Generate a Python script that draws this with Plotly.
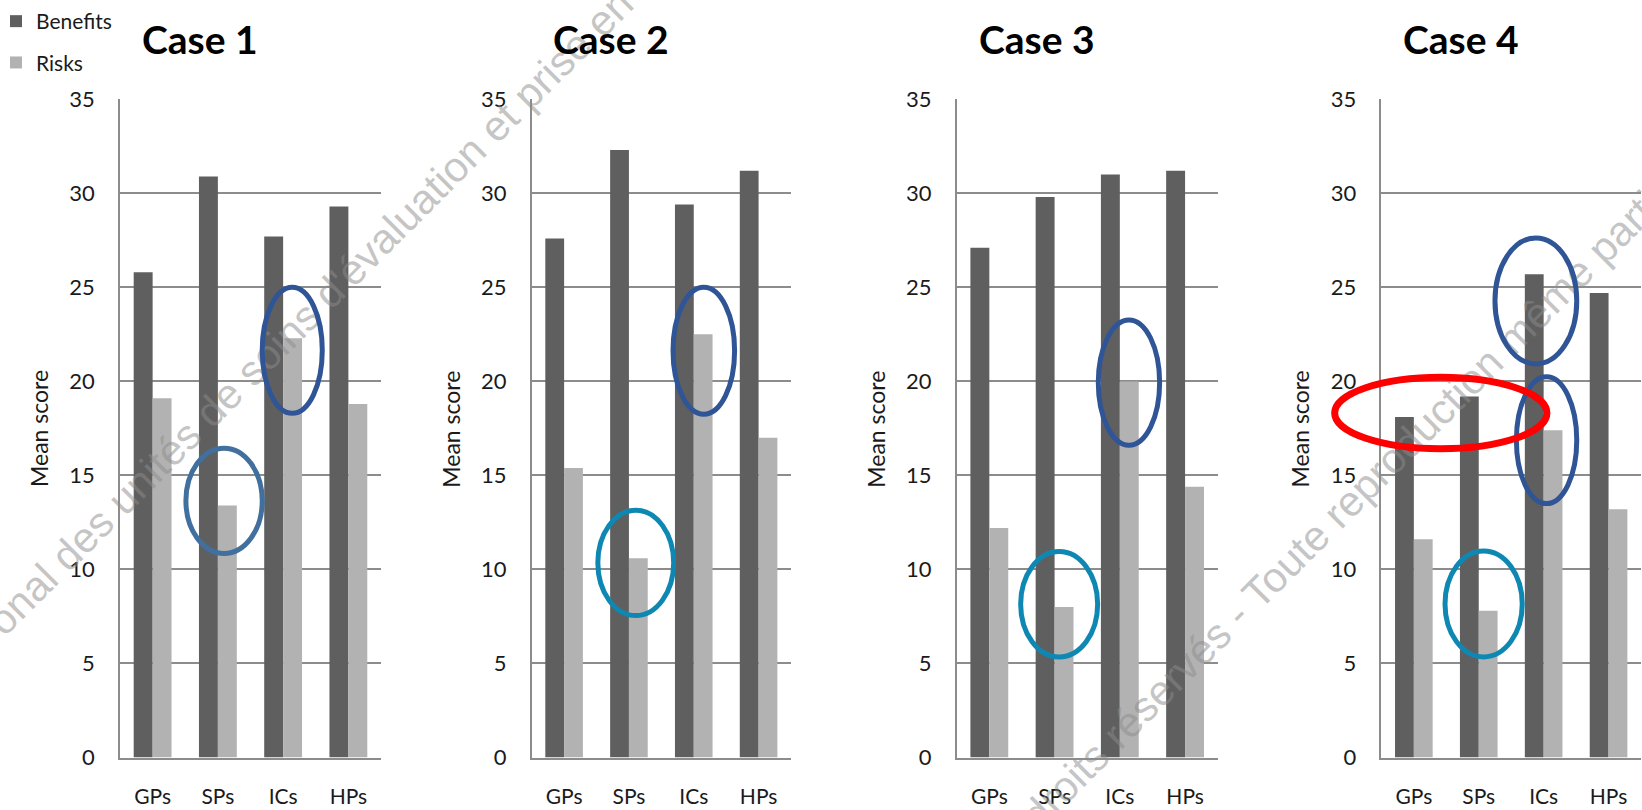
import plotly.graph_objects as go
from plotly.subplots import make_subplots

# ---- data -------------------------------------------------------------
categories = ["GPs", "SPs", "ICs", "HPs"]
case_titles = ["Case 1", "Case 2", "Case 3", "Case 4"]

benefits_case1 = [25.8, 30.9, 27.7, 29.3]
benefits_case2 = [27.6, 32.3, 29.4, 31.2]
benefits_case3 = [27.1, 29.8, 31.0, 31.2]
benefits_case4 = [18.1, 19.2, 25.7, 24.7]

risks_case1 = [19.1, 13.4, 22.3, 18.8]
risks_case2 = [15.4, 10.6, 22.5, 17.0]
risks_case3 = [12.2, 8.0, 20.0, 14.4]
risks_case4 = [11.6, 7.8, 17.4, 13.2]

benefits = [benefits_case1, benefits_case2, benefits_case3, benefits_case4]
risks = [risks_case1, risks_case2, risks_case3, risks_case4]

y_ticks = [0, 5, 10, 15, 20, 25, 30, 35]

# ---- page geometry ----------------------------------------------------
W, H = 1642, 810
PLOT_TOP, PLOT_BOTTOM = 99.3, 757.5
PANEL_X = [(120, 381), (531.7, 791), (956.7, 1217.7), (1381.4, 1641)]
Y_MAX = 35


def px(x):
    return x / W


def py(y):
    return 1 - y / H


# ---- styles -----------------------------------------------------------
BENEFIT_COLOR = "#5f5f5f"
RISK_COLOR = "#b2b2b2"
GRID_COLOR = "#8c8c8c"
TEXT_COLOR = "#1a1a1a"
FONT = "Lato"

fig = make_subplots(rows=1, cols=4)

for i in range(4):
    col = i + 1
    show = i == 0
    fig.add_trace(go.Bar(
        x=categories, y=benefits[i], name="Benefits",
        marker=dict(color=BENEFIT_COLOR, line=dict(width=0)),
        legendgroup="benefits", showlegend=show,
    ), row=1, col=col)
    fig.add_trace(go.Bar(
        x=categories, y=risks[i], name="Risks",
        marker=dict(color=RISK_COLOR, line=dict(width=0)),
        legendgroup="risks", showlegend=show,
    ), row=1, col=col)

axis_font = dict(family=FONT, size=22, color=TEXT_COLOR)
xtick_font = dict(family=FONT, size=21, color=TEXT_COLOR)
for i, (x0, x1) in enumerate(PANEL_X):
    sfx = "" if i == 0 else str(i + 1)
    fig.layout["xaxis" + sfx].update(
        domain=[px(x0), px(x1)], range=[-0.5, 3.5], type="category",
        showline=True, linecolor=GRID_COLOR, linewidth=1.5,
        showgrid=False, ticks="", tickfont=xtick_font, ticklabelstandoff=20,
        automargin=False, fixedrange=True,
    )
    fig.layout["yaxis" + sfx].update(
        domain=[py(PLOT_BOTTOM), py(PLOT_TOP)], range=[0, Y_MAX],
        tickvals=y_ticks, showgrid=True, gridcolor=GRID_COLOR, gridwidth=1.5,
        showline=True, linecolor=GRID_COLOR, linewidth=1.5, zeroline=False,
        ticks="", tickfont=axis_font, ticklabelstandoff=19,
        automargin=False, fixedrange=True,
    )

annotations = []
for i, (x0, x1) in enumerate(PANEL_X):
    # panel title, centred over the tick labels + plot block
    annotations.append(dict(
        text="<b>%s</b>" % case_titles[i], x=px((x0 + x1) / 2 - 50.5), y=py(39),
        xref="paper", yref="paper", showarrow=False,
        xanchor="center", yanchor="middle",
        font=dict(family=FONT, size=39, color="#000000"),
    ))
    # y-axis caption
    annotations.append(dict(
        text="Mean score", x=px(x0 - 81), y=py(429),
        xref="paper", yref="paper", showarrow=False, textangle=-90,
        xanchor="center", yanchor="middle",
        font=dict(family=FONT, size=23, color=TEXT_COLOR),
    ))

shapes = []

# diagonal watermark lines, drawn as labelled invisible lines
WM_FONT = dict(family="Liberation Sans", size=42, color="rgba(140,140,140,0.5)")
watermarks = [
    ("onal des unités de soins d'évaluation et prise en", (307, 309)),
    ("droits réservés - Toute reproduction même partielle", (1361, 484)),
]
for text, (cx, cy) in watermarks:
    half = 500
    d = half * 0.7071
    shapes.append(dict(
        type="line", xref="paper", yref="paper", layer="above",
        x0=px(cx - d), y0=py(cy + d), x1=px(cx + d), y1=py(cy - d),
        line=dict(color="rgba(0,0,0,0)", width=1),
        label=dict(text=text, font=WM_FONT,
                   textposition="middle", yanchor="middle", padding=0),
    ))

# highlight ellipses: panel, category-index span, value span, colour
STEEL = "#41709f"
NAVY = "#2f5597"
TEAL = "#0e88b2"
RED = "#ff0000"
highlights = [
    (0, (0.51, 1.68), (10.85, 16.45), STEEL, 5),
    (0, (1.68, 2.60), (18.30, 25.00), NAVY, 5),
    (1, (0.52, 1.69), (7.55, 13.15), TEAL, 5),
    (1, (1.68, 2.63), (18.25, 25.00), NAVY, 5),
    (2, (0.48, 1.66), (5.35, 10.95), TEAL, 5),
    (2, (1.67, 2.61), (16.60, 23.27), NAVY, 5),
    (3, (0.48, 1.67), (5.35, 10.98), TEAL, 5),
    (3, (1.25, 2.51), (20.93, 27.63), NAVY, 5),
    (3, (1.58, 2.51), (13.50, 20.24), NAVY, 5),
    (3, (-1.22, 2.05), (16.42, 20.22), RED, 7),
]


def cat_dom(idx):
    # category index -> fraction of the x-axis domain for range [-0.5, 3.5]
    return (idx + 0.5) / 4


def val_dom(v):
    return v / Y_MAX


for panel, (c0, c1), (v0, v1), color, width in highlights:
    sfx = "" if panel == 0 else str(panel + 1)
    shapes.append(dict(
        type="circle", layer="above",
        xref="x%s domain" % sfx, yref="y%s domain" % sfx,
        x0=cat_dom(c0), x1=cat_dom(c1), y0=val_dom(v0), y1=val_dom(v1),
        line=dict(color=color, width=width), fillcolor="rgba(0,0,0,0)",
    ))

fig.update_layout(
    width=W, height=H,
    margin=dict(l=0, r=0, t=0, b=0, pad=0, autoexpand=False),
    paper_bgcolor="white", plot_bgcolor="white",
    barmode="group", bargap=0.42, bargroupgap=0,
    showlegend=True,
    legend=dict(
        x=px(-4), y=py(1), xanchor="left", yanchor="top",
        font=dict(family=FONT, size=21, color=TEXT_COLOR),
        bgcolor="rgba(0,0,0,0)", tracegroupgap=11,
        itemclick=False, itemdoubleclick=False,
    ),
    annotations=annotations,
    shapes=shapes,
    font=dict(family=FONT),
)

fig.write_html("out.html", config={"displayModeBar": False})
